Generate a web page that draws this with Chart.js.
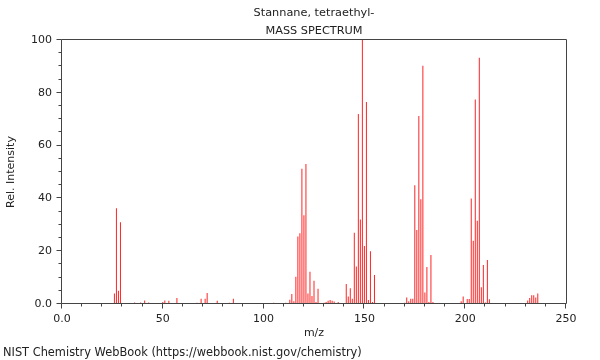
<!DOCTYPE html>
<html><head><meta charset="utf-8">
<script src="https://cdn.jsdelivr.net/npm/chart.js@4"></script>
<style>html,body{margin:0;padding:0;background:#fff}#wrap{width:600px;height:360px}</style>
</head><body><div id="wrap"><canvas id="c" width="600" height="360"></canvas></div>
<script>
const titleLines = ['Stannane, tetraethyl-', 'MASS SPECTRUM'];
const xTitle = 'm/z';
const yTitle = 'Rel. Intensity';
const footerText = 'NIST Chemistry WebBook (https://webbook.nist.gov/chemistry)';

const mz = [26,27,28,29,30,36,38,39,41,43,50,51,53,57,67,69,71,72,77,81,83,85,95,96,97,104,105,109,111,
  113,114,115,116,117,118,119,120,121,122,123,124,125,126,127,128,129,130,131,132,133,134,135,136,137,
  141,142,143,144,145,146,147,148,149,150,151,152,153,154,155,156,160,162,165,168,170,
  171,172,173,174,175,176,177,178,179,180,181,182,183,184,
  198,199,201,202,203,204,205,206,207,208,209,210,211,212,
  228,230,231,232,233,234,235,236,237,238,239,240];
const intensity = [4,36.3,5,31,0.4,0.6,0.3,0.6,1.3,0.6,0.8,1.3,1.2,2.3,0.5,2,2,4.2,1.2,0.3,0.5,2,0.3,0.3,0.3,0.4,0.5,0.3,0.5,
  1.6,3.8,1,10.3,25.6,26.8,51.2,33.6,53,4,12.2,3,8.8,0.8,5.8,0.4,0.3,0.5,0.8,1.2,1.5,1.2,0.9,0.4,0.8,
  7.6,2.8,6,2,27,14.2,72,32,100,22,76.5,1.5,20,0.8,11,0.3,0.3,0.3,0.3,0.3,0.5,
  2.5,1,2,2,45,28,71.2,39.7,90.2,4.4,14,0.8,18.6,0.8,
  1,2.8,1.9,1.9,40,24,77.5,31.5,93.3,6.3,14.8,0.6,16.7,1.8,
  0.3,0.3,1.3,2.3,3.3,3.3,2.5,4,0.4,0.3,0.3,0.3];

const xTickValues = [0,50,100,150,200,250];
const xTickLabels = ['0.0','50','100','150','200','250'];
const yTickValues = [0,20,40,60,80,100];
const yTickLabels = ['0.0','20','40','60','80','100'];
const xMinorStep = 10;
const yMinorStep = 5;

const FONT = 'DejaVu Sans';
const TXT = '#222';
const AX = '#444';

const points = mz.map((m, i) => ({x: m, y: intensity[i]}));

const decor = {
  id: 'decor',
  afterDraw(chart) {
    const {ctx, chartArea: a, scales: {x, y}} = chart;
    ctx.save();
    ctx.strokeStyle = AX;
    ctx.lineWidth = 1;
    const L = Math.round(a.left) - 0.5, R = Math.round(a.right) + 0.5;
    const T = Math.round(a.top) - 0.5, B = Math.round(a.bottom) - 0.5;
    ctx.beginPath();
    ctx.moveTo(L, T); ctx.lineTo(R, T); ctx.lineTo(R, B); ctx.lineTo(L, B); ctx.closePath();
    for (let v = x.min; v <= x.max + 1e-9; v += xMinorStep) {
      const px = Math.round(x.getPixelForValue(v)) - 0.5;
      const len = (v % 50 === 0) ? 5 : 3;
      ctx.moveTo(px, B); ctx.lineTo(px, B + len);
    }
    for (let v = y.min; v <= y.max + 1e-9; v += yMinorStep) {
      const py = Math.round(y.getPixelForValue(v)) - 0.5;
      const len = (v % 20 === 0) ? 5 : 3;
      ctx.moveTo(L, py); ctx.lineTo(L - len, py);
    }
    ctx.stroke();
    ctx.fillStyle = TXT;
    ctx.font = '11.3px "' + FONT + '"';
    ctx.textBaseline = 'middle';
    ctx.textAlign = 'center';
    const cx = (a.left + a.right) / 2;
    ctx.fillText(titleLines[0], cx, 13);
    ctx.fillText(titleLines[1], cx, 31);
    ctx.textAlign = 'left';
    ctx.font = '11.4px "' + FONT + '"';
    ctx.fillText(footerText, 3, 353);
    ctx.restore();
  }
};

new Chart(document.getElementById('c'), {
  type: 'bar',
  data: {
    datasets: [{
      data: points,
      backgroundColor: '#ff2424',
      borderWidth: 0,
      barThickness: 1,
      inflateAmount: 0
    }]
  },
  options: {
    responsive: false,
    devicePixelRatio: 1,
    animation: false,
    layout: {padding: {top: 40, right: 34, left: 0, bottom: 0}},
    plugins: {legend: {display: false}, tooltip: {enabled: false}, title: {display: false}},
    scales: {
      x: {
        type: 'linear', min: 0, max: 250, offset: false,
        grid: {display: false, drawTicks: false},
        border: {display: false},
        ticks: {
          stepSize: 50, padding: 9, maxRotation: 0, color: TXT,
          font: {family: FONT, size: 11},
          callback: (v) => { const i = xTickValues.indexOf(v); return i >= 0 ? xTickLabels[i] : ''; }
        },
        title: {display: true, text: xTitle, color: TXT, font: {family: FONT, size: 11}, padding: {top: 0, bottom: 20}},
        afterFit(s) { s.height = 56; }
      },
      y: {
        min: 0, max: 100,
        grid: {display: false, drawTicks: false},
        border: {display: false},
        ticks: {
          stepSize: 20, padding: 10, color: TXT,
          font: {family: FONT, size: 11},
          callback: (v) => { const i = yTickValues.indexOf(v); return i >= 0 ? yTickLabels[i] : ''; }
        },
        title: {display: true, text: yTitle, color: TXT, font: {family: FONT, size: 11}, padding: {top: 5, bottom: 0}},
        afterFit(s) { s.width = 62; }
      }
    }
  },
  plugins: [decor]
});
</script>
</body></html>
